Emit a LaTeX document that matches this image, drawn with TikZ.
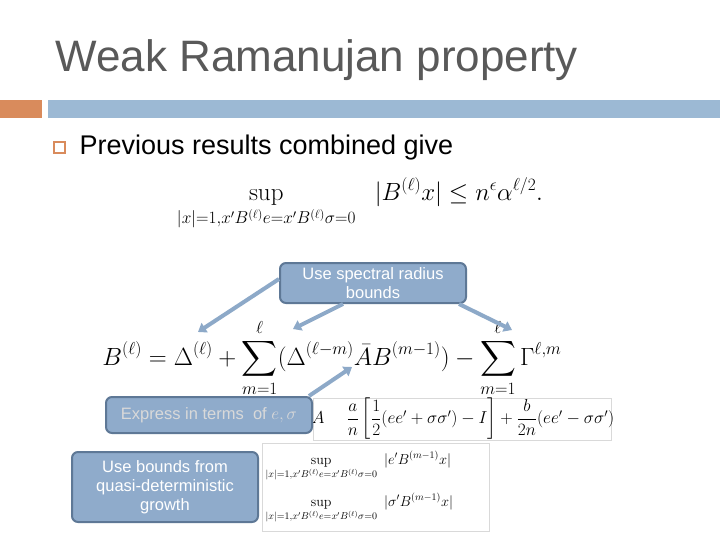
\documentclass[tikz,border=0pt]{standalone}
\usepackage{amsmath}
\usepackage{fontspec}
\newfontfamily\arial{Liberation Sans}
\usetikzlibrary{arrows.meta}
\definecolor{titlegray}{HTML}{595959}
\definecolor{orng}{HTML}{D98B5C}
\definecolor{barblue}{HTML}{9CB9D4}
\definecolor{callfill}{HTML}{8FABCB}
\definecolor{calldraw}{HTML}{5E7896}
\definecolor{arrblue}{HTML}{8DA9C8}
\tikzset{
 callout/.style={draw=calldraw,line width=2pt,fill=callfill,rounded corners=6pt,text=white,align=center,font=\arial\fontsize{16.5}{19}\selectfont,inner sep=2pt},
 fbox/.style={draw=black!15,line width=0.6pt,fill=white,inner sep=2pt},
 bigarrow/.style={draw=arrblue,line width=4pt,-{Triangle[length=8pt,width=11pt]}}
}
\begin{document}
\begin{tikzpicture}[x=1pt,y=-1pt]
\useasboundingbox[fill=white] (0,0) rectangle (720,540);
\node[anchor=west,text=titlegray,font=\arial\fontsize{44}{46}\selectfont] (title) at (52,60) {Weak Ramanujan property};
\fill[orng] (0,100) rectangle (42,118);
\fill[barblue] (48,100) rectangle (720,118);
\draw[orng,line width=1.2pt] (54,142) rectangle (65,153);
\node[anchor=west,font=\arial\fontsize{27}{29}\selectfont] (prev) at (76,148) {Previous results combined give};
\node[font=\fontsize{25}{27}\selectfont] (eq1) at (360,204) {$\displaystyle\sup_{|x|=1,x'B^{(\ell)}e=x'B^{(\ell)}\sigma=0}\ \ |B^{(\ell)}x|\le n^{\epsilon}\alpha^{\ell/2}.$};
\node[font=\fontsize{24}{26}\selectfont] (eq2) at (332,358) {$\displaystyle B^{(\ell)}=\Delta^{(\ell)}+\sum_{m=1}^{\ell}(\Delta^{(\ell-m)}\bar{A}B^{(m-1)})-\sum_{m=1}^{\ell}\Gamma^{\ell,m}$};
\coordinate (t1) at (198,332);
\coordinate (t2) at (293,329);
\coordinate (t3) at (512,330);
\coordinate (t4) at (352,367);
\node[fbox,minimum width=298pt,minimum height=42pt] (boxA) at (462,419) {};
\node[font=\fontsize{17}{19}\selectfont] (eqA) at (463,419) {$A\quad\ \dfrac{a}{n}\left[\dfrac{1}{2}(ee'+\sigma\sigma')-I\right]+\dfrac{b}{2n}(ee'-\sigma\sigma')$};
\node[callout,minimum width=186pt,minimum height=40pt] (c1) at (373,283) {Use spectral radius\\bounds};
\draw[bigarrow] (c1.west) ++(0,-4) -- (t1);
\draw[bigarrow] ([xshift=-30pt]c1.south) -- (t2);
\draw[bigarrow] ([xshift=-8pt]c1.south east) -- (t3);
\node[callout,text=white!85!black,minimum width=206pt,minimum height=36pt,anchor=west] (c2) at (105,415) {Express in terms\ \ of $e,\sigma$};
\draw[bigarrow] (c2.north east) ++(-4,0) -- (t4);
\node[fbox,minimum width=227pt,minimum height=88pt] (boxS) at (376,487) {};
\node[font=\fontsize{14}{16}\selectfont,anchor=west] (s1) at (262,466) {$\displaystyle\sup_{|x|=1,x'B^{(\ell)}e=x'B^{(\ell)}\sigma=0}\ |e'B^{(m-1)}x|$};
\node[font=\fontsize{14}{16}\selectfont,anchor=west] (s2) at (262,508) {$\displaystyle\sup_{|x|=1,x'B^{(\ell)}e=x'B^{(\ell)}\sigma=0}\ |\sigma'B^{(m-1)}x|$};
\node[callout,minimum width=186pt,minimum height=70pt] (c3) at (165,487) {Use bounds from\\quasi-deterministic\\growth};
\end{tikzpicture}
\end{document}
